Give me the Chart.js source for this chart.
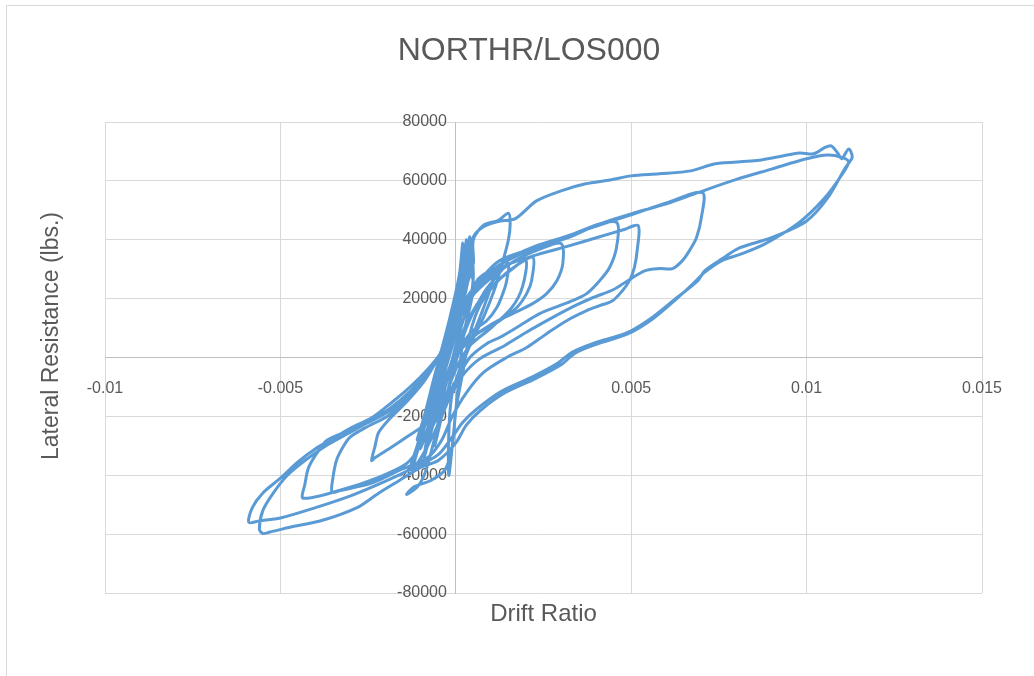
<!DOCTYPE html>
<html>
<head>
<meta charset="utf-8">
<title>NORTHR/LOS000</title>
<script src="https://cdn.jsdelivr.net/npm/chart.js@4.4.1/dist/chart.umd.min.js"></script>
<style>
  html, body { margin: 0; padding: 0; background: #fff; }
</style>
</head>
<body>
<canvas id="graficoHisterese" width="1034" height="676"></canvas>
<script>
// Textos do gráfico
const tituloGrafico = 'NORTHR/LOS000';
const tituloX = 'Drift Ratio';
const tituloY = 'Lateral Resistance (lbs.)';

// Ticks e rótulos dos eixos
const ticksX = [-0.01, -0.005, 0, 0.005, 0.01, 0.015];
const rotulosX = ['-0.01', '-0.005', '0', '0.005', '0.01', '0.015'];
const ticksY = [-80000, -60000, -40000, -20000, 0, 20000, 40000, 60000, 80000];
const rotulosY = ['-80000', '-60000', '-40000', '-20000', '0', '20000', '40000', '60000', '80000'];

// Ciclos pequenos iniciais (perto da origem)
const deriva1 = [0, 0.0001, 0.0002, 0.0003, 0.0003, 0.0002, -0.0001, -0.0004, -0.0007, -0.0009, -0.0010, -0.0008, -0.0005, -0.0001, 0.0002, 0.0004, 0.0004, 0.0003, 0.0001, -0.0002, -0.0005, -0.0008, -0.0009, -0.0007, -0.0003, 0.0000, 0.0003, 0.0006, 0.0009, 0.0011, 0.0010, 0.0007, 0.0003, -0.0001, -0.0002, -0.0002, -0.0001, 0.0000, 0.0001, 0.0002, 0.0004, 0.0005,
  0.0004, 0.0002, -0.0001, -0.0004, -0.0008, -0.0011, -0.0012, -0.0010, -0.0007, -0.0003, 0.0000, 0.0002, 0.0002, 0.0001, -0.0002, -0.0006, -0.0009, -0.0011, -0.0008, -0.0004, 0.0000, 0.0003, 0.0005];
const forca1 = [0, 9000, 20000, 31000, 40000, 30000, 14000, 0, -14000, -24000, -31000, -24000, -12000, 4000, 18000, 30000, 41000, 31000, 17000, 2000, -12000, -26000, -34000, -25000, -10000, 4000, 16000, 26000, 29000, 30000, 24000, 14000, 2000, -12000, -26000, -40000, -30000, -18000, -6000, 6000, 18000, 28000,
  38000, 26000, 12000, -2000, -18000, -30000, -36000, -28000, -16000, 0, 14000, 28000, 39000, 28000, 12000, -6000, -20000, -28000, -20000, -6000, 10000, 24000, 32000];

// Primeiro pico com gancho em 0.0015
const deriva2 = [0.0005, 0.0008, 0.0012, 0.0015, 0.00155, 0.0015, 0.0013, 0.0011, 0.0008, 0.0004, 0.0000, -0.0004, -0.0008, -0.0011, -0.0013, -0.0011, -0.0008, -0.0005, -0.0002, 0.0001, 0.0003, 0.0004];
const forca2 = [40000, 45000, 46500, 49000, 45500, 40000, 31000, 23000, 14000, 4000, -8000, -20000, -30000, -36000, -38000, -30000, -20000, -10000, 0, 12000, 24000, 34000];

// Grande excursão positiva (ramo superior) e volta até -0.0059
const deriva3 = [0.0005, 0.0008, 0.0012, 0.0017, 0.0023, 0.0030, 0.0037, 0.0044, 0.0050, 0.0058, 0.0067, 0.0074, 0.0085, 0.0092, 0.0098, 0.0102, 0.0105, 0.0107, 0.0109, 0.0110, 0.0112, 0.0113, 0.0111, 0.0106, 0.0100, 0.0090, 0.0081, 0.0076, 0.0071, 0.0069, 0.0063, 0.0056, 0.0049, 0.0039, 0.0033, 0.0029, 0.0022, 0.0013, 0.0006, 0.0002, -0.0001, -0.0005, -0.0012, -0.0020, -0.0030, -0.0040, -0.0050, -0.0056, -0.0059];
const forca3 = [41000, 44500, 46200, 47200, 53200, 56600, 59000, 60300, 61700, 62400, 63400, 65800, 66800, 68200, 69500, 69200, 71200, 71900, 69200, 67500, 70800, 68000, 64400, 54200, 46400, 40700, 37300, 33600, 29500, 26100, 20300, 13600, 8500, 4700, 1700, -2000, -6500, -11500, -17500, -22000, -27000, -33000, -37500, -42000, -47000, -51000, -54500, -55500, -56000];

// Segunda excursão grande (ramo do meio) e volta até -0.0056
const deriva4 = [-0.0058, -0.0055, -0.0050, -0.0045, -0.0040, -0.0035, -0.0030, -0.0024, -0.0019, -0.0013, -0.0008, -0.0004, 0.0000, 0.0003, 0.0007, 0.00125, 0.0022, 0.0032, 0.0041, 0.0050, 0.0060, 0.0069, 0.0080, 0.0090, 0.0100, 0.0106, 0.0110, 0.0112, 0.0110, 0.0105, 0.0098, 0.0088, 0.0081, 0.0076, 0.0071, 0.0068, 0.0063, 0.0056, 0.0049, 0.0040, 0.0034, 0.0030, 0.0023, 0.0014, 0.0007, 0.0003, 0.0000, -0.0005, -0.0010, -0.0016, -0.0022, -0.0028, -0.0038, -0.0047, -0.0053, -0.0055, -0.0056];
const forca4 = [-51000, -46000, -41000, -35500, -31000, -27500, -24000, -20500, -16000, -10000, -4000, 2000, 12000, 20000, 26500, 32900, 37000, 40700, 45400, 48800, 52200, 56000, 60500, 64000, 67500, 68800, 68000, 66500, 62000, 54000, 46000, 38500, 35000, 33000, 29000, 25500, 20000, 13000, 8000, 4500, 1500, -2500, -7000, -12000, -18000, -23000, -29000, -35000, -37300, -41700, -46100, -50900, -55300, -57600, -59300, -59800, -58300];

// Laço até 0.007 e volta até -0.0044
const deriva5 = [-0.0055, -0.0052, -0.0048, -0.0043, -0.0037, -0.0031, -0.0025, -0.0019, -0.0013, -0.0008, -0.0004, 0.0000, 0.0004, 0.0009, 0.0015, 0.0022, 0.0031, 0.0041, 0.0050, 0.0060, 0.00703, 0.0070, 0.00686, 0.00666, 0.00646, 0.00618, 0.0058, 0.0054, 0.0049, 0.0045, 0.0039, 0.0034, 0.0027, 0.0020, 0.0014, 0.0007, 0.0002, -0.0002, -0.0006, -0.0010, -0.0014, -0.0022, -0.0033, -0.00435];
const forca5 = [-52000, -46000, -40000, -35000, -30000, -26000, -22000, -17500, -11500, -5000, 2000, 11000, 21000, 28000, 33500, 37500, 41000, 45000, 48500, 52500, 56000, 47500, 40700, 36300, 32900, 30200, 30200, 29500, 26100, 23100, 20300, 17600, 13200, 8500, 4100, -300, -6000, -14000, -22000, -30000, -36000, -40700, -45100, -47800];

// Laço até 0.0052 e volta até -0.0035
const deriva6 = [-0.0043, -0.0042, -0.00396, -0.00367, -0.00302, -0.0024, -0.0018, -0.0012, -0.0007, -0.0003, 0.0001, 0.0006, 0.0012, 0.0022, 0.0031, 0.0041, 0.0048, 0.0052, 0.00518, 0.00509, 0.00495, 0.00475, 0.00447, 0.0041, 0.00373, 0.00316, 0.00259, 0.00202, 0.00145, 0.0008, 0.0003, -0.0001, -0.0004, -0.0008, -0.0016, -0.0024, -0.0033, -0.00353];
const forca6 = [-43000, -37500, -32500, -28100, -24700, -21500, -17500, -11000, -4000, 4000, 13000, 23000, 30000, 34500, 37500, 41000, 43500, 44800, 37300, 30500, 26100, 22700, 19300, 17600, 15900, 12500, 8100, 3400, 0, -5000, -12000, -20000, -28000, -34000, -38300, -42700, -45200, -45800];

// Laço até 0.0046 e volta até -0.0024
const deriva7 = [-0.0035, -0.0034, -0.00322, -0.00302, -0.0026, -0.0019, -0.0013, -0.0008, -0.0004, 0.0000, 0.0005, 0.0012, 0.0022, 0.0032, 0.0041, 0.0046, 0.00458, 0.00438, 0.0041, 0.00373, 0.00333, 0.00296, 0.00239, 0.00174, 0.00125, 0.00088, 0.0004, 0.0000, -0.0004, -0.0008, -0.0014, -0.0019, -0.0023, -0.0024];
const forca7 = [-40700, -34900, -30500, -27100, -24000, -19600, -13500, -6000, 2000, 12000, 23000, 31000, 37000, 41200, 45400, 45700, 37300, 30500, 26100, 21700, 19300, 17600, 14900, 10200, 6800, 4700, 0, -8000, -16000, -22000, -27000, -31000, -34000, -35000];

// Laços menores finais
const deriva8 = [-0.0023, -0.0022, -0.0019, -0.0014, -0.0009, -0.0005, -0.0001, 0.0004, 0.0010, 0.0017, 0.0024, 0.0030, 0.00305, 0.00288, 0.00259, 0.00219, 0.00162, 0.00105, 0.00048, 0.0000, -0.0003, -0.0005, -0.0007, -0.0009, -0.0011, -0.0014, -0.0012, -0.0007, -0.0003, -0.0001, 0.0000, 0.0002, 0.0004, 0.0007, 0.0012, 0.0017, 0.0022, 0.00216, 0.00202, 0.00174, 0.00125, 0.00077, 0.00031, -0.0001, -0.0004, -0.0007, -0.0008, -0.0006, -0.0003, 0.0001, 0.0006, 0.0011, 0.0016, 0.0020, 0.0019, 0.0016, 0.0010, 0.0004, 0.0000, -0.0003, -0.0005, -0.0006, -0.0004, -0.0001, 0.0003, 0.0008, 0.0012, 0.0015, 0.00145, 0.00134, 0.00117, 0.00088, 0.0004, 0.0000, -0.0003, -0.0004, -0.0002, 0.0000,
  0.0003, 0.0005, 0.0004, 0.0001, -0.0003, -0.0006, -0.0008, -0.0006, -0.0002, 0.0001];
const forca8 = [-30000, -25500, -21000, -15000, -8000, 0, 10000, 20000, 27000, 33000, 36800, 38700, 31900, 26100, 21700, 18300, 14900, 11500, 6800, 0, -10000, -22000, -32000, -40000, -44000, -46500, -44000, -41700, -38000, -30000, -18000, -5000, 8000, 18000, 26000, 31000, 34000, 26100, 21700, 17000, 12500, 9200, 5800, -2000, -12000, -22000, -28000, -20000, -8000, 6000, 18000, 25000, 30000, 33000, 24000, 17000, 10000, 4000, -4000, -14000, -24000, -30000, -20000, -6000, 10000, 22000, 28000, 32000, 26100, 21700, 17000, 12500, 8100, 0, -10000, -20000, -10000, 0,
  12000, 24000, 30000, 18000, 2000, -14000, -24000, -16000, -4000, 4000];

// Junta todas as fases num único caminho
const deriva = [].concat(deriva1, deriva2, deriva3, deriva4, deriva5, deriva6, deriva7, deriva8);
const forca = [].concat(forca1, forca2, forca3, forca4, forca5, forca6, forca7, forca8);
const pontos = deriva.map((x, i) => ({ x: x, y: forca[i] }));

const corTexto = '#595959';

// Moldura, título e títulos dos eixos
const textosExtras = {
  id: 'textosExtras',
  beforeDraw(chart) {
    const ctx = chart.ctx;
    ctx.save();
    ctx.fillStyle = '#ffffff';
    ctx.fillRect(0, 0, chart.width, chart.height);
    ctx.strokeStyle = '#d9d9d9';
    ctx.lineWidth = 1;
    ctx.strokeRect(6.5, 5.5, 1100, 800);
    ctx.restore();
  },
  afterDraw(chart) {
    const { ctx, chartArea } = chart;
    ctx.save();
    ctx.fillStyle = corTexto;
    ctx.textAlign = 'center';
    ctx.textBaseline = 'middle';
    ctx.font = '32px "Liberation Sans"';
    ctx.fillText(tituloGrafico, 529, 51);
    ctx.font = '24px "Liberation Sans"';
    ctx.fillText(tituloX, (chartArea.left + chartArea.right) / 2, chartArea.bottom + 21);
    ctx.translate(52, 336);
    ctx.rotate(-Math.PI / 2);
    ctx.font = '23px "Liberation Sans"';
    ctx.fillText(tituloY, 0, 0);
    ctx.restore();
  }
};

const fonteTicks = { family: 'Liberation Sans', size: 16 };

new Chart(document.getElementById('graficoHisterese'), {
  type: 'scatter',
  data: {
    datasets: [{
      data: pontos,
      showLine: true,
      borderColor: '#5B9BD5',
      borderWidth: 3,
      pointRadius: 0,
      tension: 0.3,
      fill: false
    }]
  },
  options: {
    responsive: false,
    animation: false,
    layout: { padding: { left: 105, right: 52, top: 122, bottom: 83 } },
    plugins: {
      legend: { display: false },
      tooltip: { enabled: false },
      title: { display: false }
    },
    scales: {
      x: {
        type: 'linear',
        min: -0.01,
        max: 0.015,
        position: { y: 0 },
        afterBuildTicks: scale => { scale.ticks = ticksX.map(v => ({ value: v })); },
        ticks: {
          autoSkip: false,
          maxRotation: 0,
          padding: 21,
          color: corTexto,
          font: fonteTicks,
          callback: (v, i) => rotulosX[i]
        },
        grid: { color: '#d9d9d9', lineWidth: 1, drawTicks: false },
        border: { display: true, color: '#bfbfbf', width: 1 }
      },
      y: {
        type: 'linear',
        min: -80000,
        max: 80000,
        position: { x: 0 },
        afterBuildTicks: scale => { scale.ticks = ticksY.map(v => ({ value: v })); },
        ticks: {
          autoSkip: false,
          color: corTexto,
          font: fonteTicks,
          // espaços no fim afastam o rótulo do eixo
          callback: (v, i) => rotulosY[i] + '  '
        },
        grid: { color: '#d9d9d9', lineWidth: 1, drawTicks: false },
        border: { display: true, color: '#bfbfbf', width: 1 }
      }
    }
  },
  plugins: [textosExtras]
});
</script>
</body>
</html>
